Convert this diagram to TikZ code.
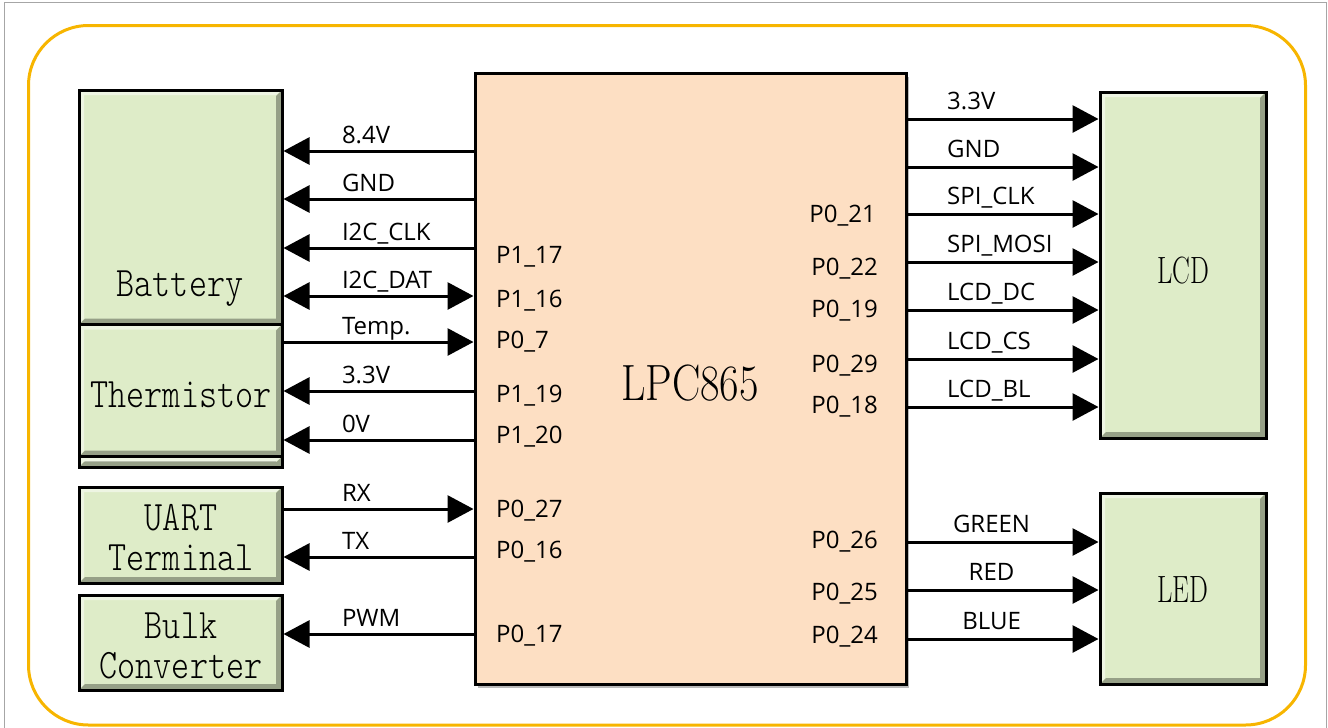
\documentclass[tikz,border=0pt]{standalone}
\usepackage{fontspec}
\usetikzlibrary{arrows.meta,calc,shadows}
\newfontfamily\labfont{Open Sans}
\newfontfamily\boxfont{lmmonolt10-regular.otf}
\definecolor{boxgreen}{HTML}{DEECC8}
\definecolor{chipfill}{HTML}{FDDFC3}
\definecolor{framegold}{HTML}{F7B500}
\newcommand{\condtxt}[2][0.82]{\scalebox{#1}[1]{#2}}
\newcommand{\labsize}{\labfont\fontsize{24}{28}\selectfont}

\tikzset{
  bevel/.style={path picture={
      \coordinate (bNW) at (path picture bounding box.north west);
      \coordinate (bNE) at (path picture bounding box.north east);
      \coordinate (bSE) at (path picture bounding box.south east);
      \coordinate (bSW) at (path picture bounding box.south west);
      \fill[black, opacity=.32] (bNE) -- (bSE) -- (bSW) -- ($(bSW)+(6,-6)$)
        -- ($(bSE)+(-6,-6)$) -- ($(bNE)+(-6,6)$) -- cycle;
      \fill[white, opacity=.5] (bNW) -- (bNE) -- ($(bNE)+(-6,5)$)
        -- ($(bNW)+(5,5)$) -- ($(bSW)+(5,-6)$) -- (bSW) -- cycle;
    }},
  blk/.style={draw, line width=3pt, fill=boxgreen, inner sep=0pt, anchor=north west, bevel},
  chip/.style={draw, line width=3pt, fill=chipfill, inner sep=0pt, anchor=north west,
    drop shadow={shadow xshift=3pt, shadow yshift=-4pt, fill=black!60, opacity=.45}},
  boxlbl/.style={anchor=base, inner sep=0pt, font=\boxfont\fontsize{42}{48}\selectfont},
  bigname/.style={anchor=base, inner sep=0pt, font=\fontsize{38}{44}\selectfont},
  sig/.style={line width=3pt},
  sl/.style={pos=0.3, anchor=base west, yshift=8pt, inner sep=0pt, font=\labsize},
  sr/.style={pos=0.2, anchor=base west, yshift=10pt, inner sep=0pt, font=\labsize},
  sc/.style={pos=0.44, anchor=base, yshift=10pt, inner sep=0pt, font=\labsize},
  pinl/.style={anchor=base west, inner sep=0pt, font=\labsize},
  pinr/.style={anchor=base east, inner sep=0pt, font=\labsize}
}

\begin{document}
\begin{tikzpicture}[x=1pt, y=-1pt, >={Triangle[length=26pt,width=27pt]}]
  \useasboundingbox (0,0) rectangle (1328,728);
  % frames
  \draw[gray!70, line width=1pt] (4,740) -- (4,2) -- (1326,2) -- (1326,740);
  \draw[framegold, line width=3pt, rounded corners=60pt] (28.5,25.5) rectangle (1305.5,725);

  % blocks
  \node[blk, minimum width=203pt, minimum height=234.5pt] (bat) at (77.5,88.5) {};
  \node[blk, minimum width=203pt, minimum height=132pt] (therm) at (77.5,323) {};
  \node[blk, minimum width=203pt, minimum height=10.5pt] (strip) at (77.5,455) {};
  \node[blk, minimum width=203pt, minimum height=96pt] (uart) at (77.5,485.5) {};
  \node[blk, minimum width=203pt, minimum height=95pt] (bulk) at (77.5,593.5) {};
  \node[chip, minimum width=431pt, minimum height=611pt] (lpc) at (473.5,71.5) {};
  \node[blk, minimum width=166pt, minimum height=346pt] (lcd) at (1098.5,90.5) {};
  \node[blk, minimum width=166pt, minimum height=191pt] (led) at (1098.5,491.5) {};

  \node[boxlbl] (battxt) at (180,296) {\condtxt{Battery}};
  \node[boxlbl] (thermtxt) at (181,407) {\condtxt{Thermistor}};
  \node[boxlbl] (uarttxt) at (181,530) {\condtxt{UART}};
  \node[boxlbl] (termtxt) at (181,570) {\condtxt{Terminal}};
  \node[boxlbl] (bulktxt) at (181,638) {\condtxt{Bulk}};
  \node[boxlbl] (convtxt) at (181,678) {\condtxt{Converter}};
  \node[bigname, font=\fontsize{51}{60}\selectfont] (chipname) at (690,400) {\condtxt[0.83]{LPC865}};
  \node[bigname] (lcdtxt) at (1183,283) {\condtxt[0.7]{LCD}};
  \node[bigname] (ledtxt) at (1183,602) {\condtxt[0.7]{LED}};

  % pins
  \node[pinl] (p117) at (496,263) {P1\_17};
  \node[pinl] (p116) at (496,307) {P1\_16};
  \node[pinl] (p07) at (496,348) {P0\_7};
  \node[pinl] (p119) at (496,402) {P1\_19};
  \node[pinl] (p120) at (496,443) {P1\_20};
  \node[pinl] (p027) at (496,517) {P0\_27};
  \node[pinl] (p016) at (496,558) {P0\_16};
  \node[pinl] (p017) at (496,642) {P0\_17};
  \node[pinr] (p021) at (876,222) {P0\_21};
  \node[pinr] (p022) at (878,275) {P0\_22};
  \node[pinr] (p019) at (878,317) {P0\_19};
  \node[pinr] (p029) at (878,372) {P0\_29};
  \node[pinr] (p018) at (878,413) {P0\_18};
  \node[pinr] (p026) at (878,548) {P0\_26};
  \node[pinr] (p025) at (878,600) {P0\_25};
  \node[pinr] (p024) at (878,643) {P0\_24};

  % left side signals
  \draw[sig, <-] (bat.east |- 0,151) -- (lpc.west |- 0,151) node[sl] {8.4V};
  \draw[sig, <-] (bat.east |- 0,199) -- (lpc.west |- 0,199) node[sl] {GND};
  \draw[sig, <-] (bat.east |- 0,248) -- (lpc.west |- 0,248) node[sl] {I2C\_CLK};
  \draw[sig, <->] (bat.east |- 0,296) -- (lpc.west |- 0,296) node[sl] {I2C\_DAT};
  \draw[sig, ->] (therm.east |- 0,342) -- (lpc.west |- 0,342) node[sl] {Temp.};
  \draw[sig, <-] (therm.east |- 0,391) -- (lpc.west |- 0,391) node[sl] {3.3V};
  \draw[sig, <-] (therm.east |- 0,440) -- (lpc.west |- 0,440) node[sl] {0V};
  \draw[sig, ->] (uart.east |- 0,509) -- (lpc.west |- 0,509) node[sl] {RX};
  \draw[sig, <-] (uart.east |- 0,557) -- (lpc.west |- 0,557) node[sl] {TX};
  \draw[sig, <-] (bulk.east |- 0,634) -- (lpc.west |- 0,634) node[sl] {PWM};

  % right side signals
  \draw[sig, ->] (lpc.east |- 0,119) -- (lcd.west |- 0,119) node[sr] {3.3V};
  \draw[sig, ->] (lpc.east |- 0,167) -- (lcd.west |- 0,167) node[sr] {GND};
  \draw[sig, ->] (lpc.east |- 0,214) -- (lcd.west |- 0,214) node[sr] {SPI\_CLK};
  \draw[sig, ->] (lpc.east |- 0,262) -- (lcd.west |- 0,262) node[sr] {SPI\_MOSI};
  \draw[sig, ->] (lpc.east |- 0,310) -- (lcd.west |- 0,310) node[sr] {LCD\_DC};
  \draw[sig, ->] (lpc.east |- 0,359) -- (lcd.west |- 0,359) node[sr] {LCD\_CS};
  \draw[sig, ->] (lpc.east |- 0,407) -- (lcd.west |- 0,407) node[sr] {LCD\_BL};
  \draw[sig, ->] (lpc.east |- 0,542) -- (led.west |- 0,542) node[sc] {GREEN};
  \draw[sig, ->] (lpc.east |- 0,590) -- (led.west |- 0,590) node[sc] {RED};
  \draw[sig, ->] (lpc.east |- 0,639) -- (led.west |- 0,639) node[sc] {BLUE};
\end{tikzpicture}
\end{document}
